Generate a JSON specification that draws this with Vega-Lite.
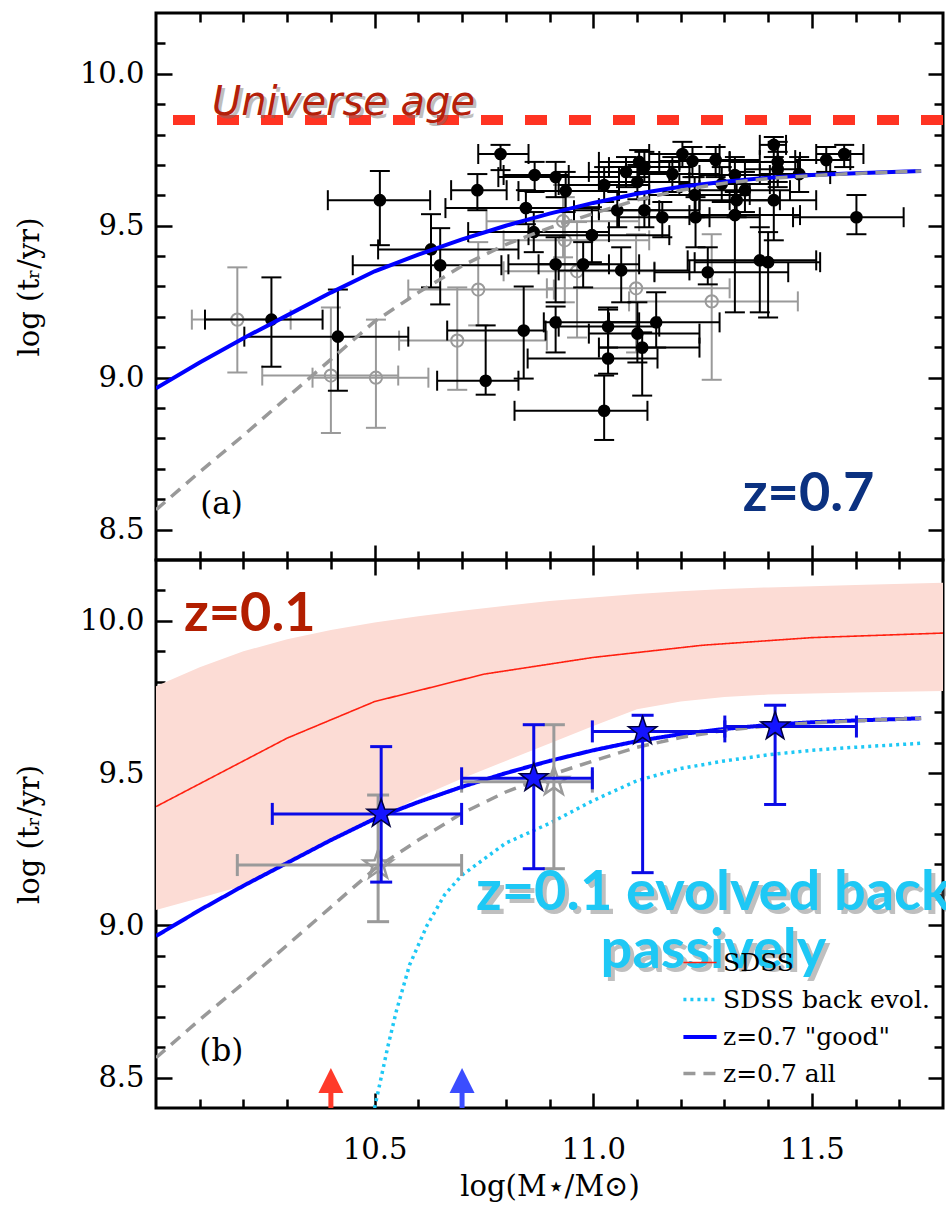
{
  "$schema": "https://vega.github.io/schema/vega-lite/v6.json",
  "background": "white",
  "padding": {"left": 13, "top": 10, "right": 0, "bottom": 0},
  "spacing": 0,
  "bounds": "flush",
  "config": {
    "view": {"stroke": "black", "strokeWidth": 3},
    "font": "DejaVu Serif",
    "axis": {
      "domain": false, "grid": false, "tickColor": "black", "tickWidth": 2.5,
      "labelFont": "DejaVu Serif", "labelFontSize": 29, "labelColor": "black",
      "titleFont": "DejaVu Serif", "titleFontSize": 29, "titleFontWeight": "normal", "titleColor": "black",
      "zindex": 1, "labelFlush": false, "labelOverlap": false
    },
    "legend": {
      "labelFont": "DejaVu Serif", "labelFontSize": 25, "labelColor": "black", "labelLimit": 400,
      "symbolType": "stroke", "symbolSize": 1100, "symbolStrokeWidth": 4, "rowPadding": 5, "labelOffset": 4, "padding": 0
    }
  },
  "datasets": {
    "age": [{"y": 9.848}],
    "black": [
      {"x":10.264,"xlo":10.112,"xhi":10.381,"y":9.191,"ylo":9.036,"yhi":9.330},
      {"x":10.416,"xlo":10.202,"xhi":10.577,"y":9.135,"ylo":8.957,"yhi":9.290},
      {"x":10.512,"xlo":10.393,"xhi":10.627,"y":9.584,"ylo":9.436,"yhi":9.680},
      {"x":10.629,"xlo":10.508,"xhi":10.829,"y":9.422,"ylo":9.297,"yhi":9.538},
      {"x":10.650,"xlo":10.450,"xhi":10.790,"y":9.370,"ylo":9.241,"yhi":9.492},
      {"x":10.735,"xlo":10.675,"xhi":10.802,"y":9.617,"ylo":9.551,"yhi":9.670},
      {"x":10.754,"xlo":10.643,"xhi":10.829,"y":8.990,"ylo":8.944,"yhi":9.172},
      {"x":10.788,"xlo":10.737,"xhi":10.852,"y":9.736,"ylo":9.683,"yhi":9.766},
      {"x":10.841,"xlo":10.666,"xhi":10.891,"y":9.155,"ylo":8.997,"yhi":9.300},
      {"x":10.846,"xlo":10.662,"xhi":11.013,"y":9.558,"ylo":9.505,"yhi":9.617},
      {"x":10.864,"xlo":10.714,"xhi":11.036,"y":9.479,"ylo":9.413,"yhi":9.545},
      {"x":10.866,"xlo":10.795,"xhi":10.944,"y":9.667,"ylo":9.611,"yhi":9.710},
      {"x":10.914,"xlo":10.783,"xhi":11.059,"y":9.660,"ylo":9.594,"yhi":9.710},
      {"x":10.914,"xlo":10.806,"xhi":11.036,"y":9.373,"ylo":9.248,"yhi":9.462},
      {"x":10.914,"xlo":10.887,"xhi":11.105,"y":9.182,"ylo":9.083,"yhi":9.234},
      {"x":10.937,"xlo":10.829,"xhi":11.059,"y":9.614,"ylo":9.545,"yhi":9.677},
      {"x":10.977,"xlo":10.875,"xhi":11.105,"y":9.373,"ylo":9.297,"yhi":9.446},
      {"x":10.997,"xlo":10.852,"xhi":11.174,"y":9.469,"ylo":9.380,"yhi":9.561},
      {"x":11.025,"xlo":10.921,"xhi":11.128,"y":9.634,"ylo":9.578,"yhi":9.693},
      {"x":11.025,"xlo":10.820,"xhi":11.124,"y":8.891,"ylo":8.795,"yhi":9.007},
      {"x":11.034,"xlo":10.921,"xhi":11.151,"y":9.168,"ylo":9.099,"yhi":9.231},
      {"x":11.034,"xlo":10.850,"xhi":11.147,"y":9.063,"ylo":9.013,"yhi":9.224},
      {"x":11.055,"xlo":10.956,"xhi":11.151,"y":9.551,"ylo":9.495,"yhi":9.611},
      {"x":11.064,"xlo":10.921,"xhi":11.220,"y":9.353,"ylo":9.248,"yhi":9.429},
      {"x":11.075,"xlo":10.990,"xhi":11.174,"y":9.677,"ylo":9.627,"yhi":9.726},
      {"x":11.101,"xlo":11.013,"xhi":11.220,"y":9.644,"ylo":9.587,"yhi":9.700},
      {"x":11.101,"xlo":10.990,"xhi":11.243,"y":9.145,"ylo":9.050,"yhi":9.248},
      {"x":11.105,"xlo":11.013,"xhi":11.197,"y":9.710,"ylo":9.660,"yhi":9.749},
      {"x":11.112,"xlo":11.013,"xhi":11.243,"y":9.099,"ylo":8.941,"yhi":9.149},
      {"x":11.117,"xlo":11.036,"xhi":11.220,"y":9.693,"ylo":9.644,"yhi":9.743},
      {"x":11.117,"xlo":11.013,"xhi":11.243,"y":9.551,"ylo":9.495,"yhi":9.611},
      {"x":11.144,"xlo":11.036,"xhi":11.289,"y":9.182,"ylo":9.099,"yhi":9.281},
      {"x":11.158,"xlo":11.059,"xhi":11.266,"y":9.528,"ylo":9.462,"yhi":9.578},
      {"x":11.181,"xlo":11.105,"xhi":11.289,"y":9.670,"ylo":9.611,"yhi":9.726},
      {"x":11.204,"xlo":11.128,"xhi":11.289,"y":9.736,"ylo":9.693,"yhi":9.776},
      {"x":11.227,"xlo":11.151,"xhi":11.312,"y":9.713,"ylo":9.660,"yhi":9.759},
      {"x":11.232,"xlo":11.128,"xhi":11.358,"y":9.601,"ylo":9.528,"yhi":9.660},
      {"x":11.234,"xlo":11.128,"xhi":11.381,"y":9.528,"ylo":9.429,"yhi":9.594},
      {"x":11.262,"xlo":11.140,"xhi":11.446,"y":9.347,"ylo":9.307,"yhi":9.429},
      {"x":11.280,"xlo":11.197,"xhi":11.381,"y":9.716,"ylo":9.660,"yhi":9.759},
      {"x":11.294,"xlo":11.197,"xhi":11.404,"y":9.637,"ylo":9.578,"yhi":9.693},
      {"x":11.324,"xlo":11.243,"xhi":11.404,"y":9.667,"ylo":9.611,"yhi":9.726},
      {"x":11.324,"xlo":11.220,"xhi":11.473,"y":9.535,"ylo":9.215,"yhi":9.611},
      {"x":11.328,"xlo":11.243,"xhi":11.427,"y":9.584,"ylo":9.528,"yhi":9.644},
      {"x":11.347,"xlo":11.243,"xhi":11.450,"y":9.617,"ylo":9.545,"yhi":9.677},
      {"x":11.381,"xlo":11.216,"xhi":11.510,"y":9.386,"ylo":9.215,"yhi":9.495},
      {"x":11.400,"xlo":11.232,"xhi":11.519,"y":9.380,"ylo":9.198,"yhi":9.479},
      {"x":11.413,"xlo":11.381,"xhi":11.441,"y":9.766,"ylo":9.726,"yhi":9.792},
      {"x":11.413,"xlo":11.312,"xhi":11.510,"y":9.584,"ylo":9.452,"yhi":9.710},
      {"x":11.422,"xlo":11.312,"xhi":11.473,"y":9.710,"ylo":9.644,"yhi":9.776},
      {"x":11.422,"xlo":11.347,"xhi":11.468,"y":9.686,"ylo":9.627,"yhi":9.743},
      {"x":11.471,"xlo":11.381,"xhi":11.542,"y":9.670,"ylo":9.611,"yhi":9.726},
      {"x":11.533,"xlo":11.462,"xhi":11.588,"y":9.716,"ylo":9.677,"yhi":9.759},
      {"x":11.574,"xlo":11.510,"xhi":11.618,"y":9.736,"ylo":9.693,"yhi":9.766},
      {"x":11.602,"xlo":11.457,"xhi":11.710,"y":9.528,"ylo":9.472,"yhi":9.601}
    ],
    "grey": [
      {"x":10.186,"xlo":10.082,"xhi":10.308,"y":9.191,"ylo":9.017,"yhi":9.363},
      {"x":10.400,"xlo":10.243,"xhi":10.554,"y":9.007,"ylo":8.818,"yhi":9.231},
      {"x":10.503,"xlo":10.358,"xhi":10.623,"y":9.000,"ylo":8.835,"yhi":9.191},
      {"x":10.689,"xlo":10.556,"xhi":10.894,"y":9.122,"ylo":8.960,"yhi":9.297},
      {"x":10.737,"xlo":10.577,"xhi":10.910,"y":9.290,"ylo":9.172,"yhi":9.446},
      {"x":10.931,"xlo":10.756,"xhi":11.105,"y":9.515,"ylo":9.396,"yhi":9.634},
      {"x":10.935,"xlo":10.795,"xhi":11.128,"y":9.452,"ylo":9.248,"yhi":9.594},
      {"x":10.963,"xlo":10.795,"xhi":11.140,"y":9.350,"ylo":9.132,"yhi":9.512},
      {"x":11.098,"xlo":10.894,"xhi":11.312,"y":9.294,"ylo":9.083,"yhi":9.472},
      {"x":11.271,"xlo":11.082,"xhi":11.468,"y":9.251,"ylo":8.993,"yhi":9.472}
    ],
    "curves": [
      {"grp":"good","series":"z=0.7 \"good\"","x":10.00,"y":8.965},
      {"grp":"good","series":"z=0.7 \"good\"","x":10.10,"y":9.05},
      {"grp":"good","series":"z=0.7 \"good\"","x":10.20,"y":9.13},
      {"grp":"good","series":"z=0.7 \"good\"","x":10.30,"y":9.205},
      {"grp":"good","series":"z=0.7 \"good\"","x":10.40,"y":9.28},
      {"grp":"good","series":"z=0.7 \"good\"","x":10.50,"y":9.35},
      {"grp":"good","series":"z=0.7 \"good\"","x":10.60,"y":9.405},
      {"grp":"good","series":"z=0.7 \"good\"","x":10.70,"y":9.455},
      {"grp":"good","series":"z=0.7 \"good\"","x":10.80,"y":9.50},
      {"grp":"good","series":"z=0.7 \"good\"","x":10.90,"y":9.54},
      {"grp":"good","series":"z=0.7 \"good\"","x":11.00,"y":9.575},
      {"grp":"good","series":"z=0.7 \"good\"","x":11.10,"y":9.605},
      {"grp":"good","series":"z=0.7 \"good\"","x":11.20,"y":9.628},
      {"grp":"good","series":"z=0.7 \"good\"","x":11.30,"y":9.645},
      {"grp":"good","series":"z=0.7 \"good\"","x":11.40,"y":9.658},
      {"grp":"good","series":"z=0.7 \"good\"","x":11.50,"y":9.667},
      {"grp":"good","series":"z=0.7 \"good\"","x":11.60,"y":9.673},
      {"grp":"good","series":"z=0.7 \"good\"","x":11.75,"y":9.68},
      {"grp":"all","series":"z=0.7 all","x":10.00,"y":8.565},
      {"grp":"all","series":"z=0.7 all","x":10.10,"y":8.69},
      {"grp":"all","series":"z=0.7 all","x":10.20,"y":8.81},
      {"grp":"all","series":"z=0.7 all","x":10.30,"y":8.935},
      {"grp":"all","series":"z=0.7 all","x":10.40,"y":9.06},
      {"grp":"all","series":"z=0.7 all","x":10.50,"y":9.185},
      {"grp":"all","series":"z=0.7 all","x":10.60,"y":9.28},
      {"grp":"all","series":"z=0.7 all","x":10.70,"y":9.368},
      {"grp":"all","series":"z=0.7 all","x":10.80,"y":9.438},
      {"grp":"all","series":"z=0.7 all","x":10.90,"y":9.493},
      {"grp":"all","series":"z=0.7 all","x":11.00,"y":9.54},
      {"grp":"all","series":"z=0.7 all","x":11.10,"y":9.585},
      {"grp":"all","series":"z=0.7 all","x":11.20,"y":9.617},
      {"grp":"all","series":"z=0.7 all","x":11.30,"y":9.64},
      {"grp":"all","series":"z=0.7 all","x":11.40,"y":9.655},
      {"grp":"all","series":"z=0.7 all","x":11.50,"y":9.665},
      {"grp":"all","series":"z=0.7 all","x":11.60,"y":9.672},
      {"grp":"all","series":"z=0.7 all","x":11.75,"y":9.68},
      {"grp":"sdss","series":"SDSS","x":10.00,"y":9.39},
      {"grp":"sdss","series":"SDSS","x":10.10,"y":9.465},
      {"grp":"sdss","series":"SDSS","x":10.30,"y":9.615},
      {"grp":"sdss","series":"SDSS","x":10.50,"y":9.735},
      {"grp":"sdss","series":"SDSS","x":10.75,"y":9.825},
      {"grp":"sdss","series":"SDSS","x":11.00,"y":9.88},
      {"grp":"sdss","series":"SDSS","x":11.25,"y":9.92},
      {"grp":"sdss","series":"SDSS","x":11.50,"y":9.945},
      {"grp":"sdss","series":"SDSS","x":11.80,"y":9.96},
      {"grp":"back","series":"SDSS back evol.","x":10.500,"y":8.40},
      {"grp":"back","series":"SDSS back evol.","x":10.515,"y":8.50},
      {"grp":"back","series":"SDSS back evol.","x":10.530,"y":8.60},
      {"grp":"back","series":"SDSS back evol.","x":10.550,"y":8.72},
      {"grp":"back","series":"SDSS back evol.","x":10.580,"y":8.87},
      {"grp":"back","series":"SDSS back evol.","x":10.620,"y":9.00},
      {"grp":"back","series":"SDSS back evol.","x":10.660,"y":9.10},
      {"grp":"back","series":"SDSS back evol.","x":10.700,"y":9.165},
      {"grp":"back","series":"SDSS back evol.","x":10.800,"y":9.27},
      {"grp":"back","series":"SDSS back evol.","x":10.900,"y":9.335},
      {"grp":"back","series":"SDSS back evol.","x":11.000,"y":9.41},
      {"grp":"back","series":"SDSS back evol.","x":11.100,"y":9.475},
      {"grp":"back","series":"SDSS back evol.","x":11.200,"y":9.515},
      {"grp":"back","series":"SDSS back evol.","x":11.300,"y":9.54},
      {"grp":"back","series":"SDSS back evol.","x":11.400,"y":9.56},
      {"grp":"back","series":"SDSS back evol.","x":11.500,"y":9.575},
      {"grp":"back","series":"SDSS back evol.","x":11.600,"y":9.585},
      {"grp":"back","series":"SDSS back evol.","x":11.750,"y":9.598}
    ],
    "band": [
      {"x":10.0,"lo":9.05,"hi":9.785},
      {"x":10.1,"lo":9.09,"hi":9.848},
      {"x":10.2,"lo":9.13,"hi":9.90},
      {"x":10.3,"lo":9.20,"hi":9.94},
      {"x":10.4,"lo":9.28,"hi":9.97},
      {"x":10.5,"lo":9.345,"hi":9.995},
      {"x":10.6,"lo":9.42,"hi":10.015},
      {"x":10.7,"lo":9.482,"hi":10.033},
      {"x":10.8,"lo":9.54,"hi":10.05},
      {"x":10.9,"lo":9.597,"hi":10.065},
      {"x":11.0,"lo":9.655,"hi":10.077},
      {"x":11.1,"lo":9.71,"hi":10.088},
      {"x":11.2,"lo":9.735,"hi":10.097},
      {"x":11.3,"lo":9.75,"hi":10.105},
      {"x":11.4,"lo":9.758,"hi":10.11},
      {"x":11.6,"lo":9.765,"hi":10.118},
      {"x":11.8,"lo":9.77,"hi":10.125}
    ],
    "starsGood": [
      {"x":10.515,"xlo":10.266,"xhi":10.699,"y":9.366,"ylo":9.142,"yhi":9.587},
      {"x":10.864,"xlo":10.699,"xhi":10.998,"y":9.483,"ylo":9.186,"yhi":9.659},
      {"x":11.113,"xlo":10.998,"xhi":11.301,"y":9.637,"ylo":9.173,"yhi":9.690},
      {"x":11.416,"xlo":11.301,"xhi":11.602,"y":9.653,"ylo":9.397,"yhi":9.723}
    ],
    "starsAll": [
      {"x":10.508,"xlo":10.186,"xhi":10.699,"y":9.198,"ylo":9.012,"yhi":9.428},
      {"x":10.910,"xlo":10.699,"xhi":10.998,"y":9.472,"ylo":9.186,"yhi":9.659}
    ],
    "arrows": [
      {"who":"sdss","x":10.4,"y0":8.4,"y1":8.49},
      {"who":"z07","x":10.7,"y0":8.4,"y1":8.49}
    ],
    "notesTop": [
      {"kind":"age","x":10.128,"y":9.865,"label":"Universe age"},
      {"kind":"z","x":11.342,"y":8.561,"label":"z=0.7"},
      {"kind":"tag","x":10.101,"y":8.581,"label":"(a)"}
    ],
    "notesBottom": [
      {"kind":"z","x":10.064,"y":9.967,"label":"z=0.1"},
      {"kind":"evolved","x":11.275,"y":9.05,"label":"z=0.1 evolved back"},
      {"kind":"evolved","x":11.275,"y":8.861,"label":"passively"},
      {"kind":"tag","x":10.099,"y":8.584,"label":"(b)"}
    ]
  },
  "vconcat": [
    {
      "width": 787,
      "height": 547,
      "resolve": {"axis": {"x": "independent", "y": "independent"}},
      "layer": [
        {
          "data": {"name": "age"},
          "mark": {"type": "rule", "color": "#ff3322", "strokeWidth": 10, "strokeDash": [22, 22]},
          "encoding": {"y": {"field": "y", "type": "quantitative", "scale": {"domain": [8.4, 10.2]}, "axis": null}}
        },
        {
          "data": {"name": "notesTop"},
          "transform": [{"filter": "datum.kind == 'age'"}],
          "mark": {"type": "text", "font": "DejaVu Sans", "fontStyle": "italic", "fontSize": 40, "align": "left", "baseline": "alphabetic", "color": "#707070", "opacity": 0.45, "dx": 3, "dy": 3},
          "encoding": {
            "x": {"field": "x", "type": "quantitative", "scale": {"domain": [10, 11.8]}, "axis": null},
            "y": {"field": "y", "type": "quantitative", "scale": {"domain": [8.4, 10.2]}, "axis": null},
            "text": {"field": "label"}
          }
        },
        {
          "data": {"name": "notesTop"},
          "transform": [{"filter": "datum.kind == 'age'"}],
          "mark": {"type": "text", "font": "DejaVu Sans", "fontStyle": "italic", "fontSize": 40, "align": "left", "baseline": "alphabetic", "color": "#b4200a"},
          "encoding": {
            "x": {"field": "x", "type": "quantitative", "scale": {"domain": [10, 11.8]}, "axis": null},
            "y": {"field": "y", "type": "quantitative", "scale": {"domain": [8.4, 10.2]}, "axis": null},
            "text": {"field": "label"}
          }
        },
        {
          "data": {"name": "grey"},
          "mark": {"type": "rule", "color": "#9a9a9a", "strokeWidth": 2},
          "encoding": {
            "x": {"field": "xlo", "type": "quantitative", "scale": {"domain": [10, 11.8]}, "axis": null},
            "x2": {"field": "xhi"},
            "y": {"field": "y", "type": "quantitative", "scale": {"domain": [8.4, 10.2]}, "axis": null}
          }
        },
        {
          "data": {"name": "grey"},
          "mark": {"type": "rule", "color": "#9a9a9a", "strokeWidth": 2},
          "encoding": {
            "x": {"field": "x", "type": "quantitative", "scale": {"domain": [10, 11.8]}, "axis": null},
            "y": {"field": "ylo", "type": "quantitative", "scale": {"domain": [8.4, 10.2]}, "axis": null},
            "y2": {"field": "yhi"}
          }
        },
        {
          "data": {"name": "grey"},
          "mark": {"type": "tick", "orient": "vertical", "size": 20, "thickness": 2, "color": "#9a9a9a", "opacity": 1},
          "encoding": {
            "x": {"field": "xlo", "type": "quantitative", "scale": {"domain": [10, 11.8]}, "axis": null},
            "y": {"field": "y", "type": "quantitative", "scale": {"domain": [8.4, 10.2]}, "axis": null}
          }
        },
        {
          "data": {"name": "grey"},
          "mark": {"type": "tick", "orient": "vertical", "size": 20, "thickness": 2, "color": "#9a9a9a", "opacity": 1},
          "encoding": {
            "x": {"field": "xhi", "type": "quantitative", "scale": {"domain": [10, 11.8]}, "axis": null},
            "y": {"field": "y", "type": "quantitative", "scale": {"domain": [8.4, 10.2]}, "axis": null}
          }
        },
        {
          "data": {"name": "grey"},
          "mark": {"type": "tick", "orient": "horizontal", "size": 20, "thickness": 2, "color": "#9a9a9a", "opacity": 1},
          "encoding": {
            "x": {"field": "x", "type": "quantitative", "scale": {"domain": [10, 11.8]}, "axis": null},
            "y": {"field": "ylo", "type": "quantitative", "scale": {"domain": [8.4, 10.2]}, "axis": null}
          }
        },
        {
          "data": {"name": "grey"},
          "mark": {"type": "tick", "orient": "horizontal", "size": 20, "thickness": 2, "color": "#9a9a9a", "opacity": 1},
          "encoding": {
            "x": {"field": "x", "type": "quantitative", "scale": {"domain": [10, 11.8]}, "axis": null},
            "y": {"field": "yhi", "type": "quantitative", "scale": {"domain": [8.4, 10.2]}, "axis": null}
          }
        },
        {
          "data": {"name": "grey"},
          "mark": {"type": "point", "shape": "circle", "size": 150, "filled": false, "color": "#9a9a9a", "strokeWidth": 2, "opacity": 1},
          "encoding": {
            "x": {"field": "x", "type": "quantitative", "scale": {"domain": [10, 11.8]},
                  "axis": {"orient": "top", "values": [10.1,10.2,10.3,10.4,10.6,10.7,10.8,10.9,11.1,11.2,11.3,11.4,11.6,11.7], "tickSize": -9, "labels": false, "title": null}},
            "y": {"field": "y", "type": "quantitative", "scale": {"domain": [8.4, 10.2]},
                  "axis": {"orient": "right", "values": [8.6,8.7,8.8,8.9,9.1,9.2,9.3,9.4,9.6,9.7,9.8,9.9,10.1], "tickSize": -9, "labels": false, "title": null}}
          }
        },
        {
          "data": {"name": "black"},
          "mark": {"type": "rule", "color": "black", "strokeWidth": 2},
          "encoding": {
            "x": {"field": "xlo", "type": "quantitative", "scale": {"domain": [10, 11.8]}, "axis": null},
            "x2": {"field": "xhi"},
            "y": {"field": "y", "type": "quantitative", "scale": {"domain": [8.4, 10.2]}, "axis": null}
          }
        },
        {
          "data": {"name": "black"},
          "mark": {"type": "rule", "color": "black", "strokeWidth": 2},
          "encoding": {
            "x": {"field": "x", "type": "quantitative", "scale": {"domain": [10, 11.8]}, "axis": null},
            "y": {"field": "ylo", "type": "quantitative", "scale": {"domain": [8.4, 10.2]}, "axis": null},
            "y2": {"field": "yhi"}
          }
        },
        {
          "data": {"name": "black"},
          "mark": {"type": "tick", "orient": "vertical", "size": 20, "thickness": 2, "color": "black", "opacity": 1},
          "encoding": {
            "x": {"field": "xlo", "type": "quantitative", "scale": {"domain": [10, 11.8]}, "axis": null},
            "y": {"field": "y", "type": "quantitative", "scale": {"domain": [8.4, 10.2]}, "axis": null}
          }
        },
        {
          "data": {"name": "black"},
          "mark": {"type": "tick", "orient": "vertical", "size": 20, "thickness": 2, "color": "black", "opacity": 1},
          "encoding": {
            "x": {"field": "xhi", "type": "quantitative", "scale": {"domain": [10, 11.8]}, "axis": null},
            "y": {"field": "y", "type": "quantitative", "scale": {"domain": [8.4, 10.2]}, "axis": null}
          }
        },
        {
          "data": {"name": "black"},
          "mark": {"type": "tick", "orient": "horizontal", "size": 20, "thickness": 2, "color": "black", "opacity": 1},
          "encoding": {
            "x": {"field": "x", "type": "quantitative", "scale": {"domain": [10, 11.8]}, "axis": null},
            "y": {"field": "ylo", "type": "quantitative", "scale": {"domain": [8.4, 10.2]}, "axis": null}
          }
        },
        {
          "data": {"name": "black"},
          "mark": {"type": "tick", "orient": "horizontal", "size": 20, "thickness": 2, "color": "black", "opacity": 1},
          "encoding": {
            "x": {"field": "x", "type": "quantitative", "scale": {"domain": [10, 11.8]}, "axis": null},
            "y": {"field": "yhi", "type": "quantitative", "scale": {"domain": [8.4, 10.2]}, "axis": null}
          }
        },
        {
          "data": {"name": "black"},
          "mark": {"type": "circle", "size": 160, "color": "black", "opacity": 1},
          "encoding": {
            "x": {"field": "x", "type": "quantitative", "scale": {"domain": [10, 11.8]},
                  "axis": {"orient": "top", "values": [10.5, 11, 11.5], "tickSize": -15, "labels": false, "title": null}},
            "y": {"field": "y", "type": "quantitative", "scale": {"domain": [8.4, 10.2]},
                  "axis": {"orient": "right", "values": [8.5, 9, 9.5, 10], "tickSize": -15, "labels": false, "title": null}}
          }
        },
        {
          "data": {"name": "curves"},
          "transform": [{"filter": "datum.grp == 'good'"}],
          "mark": {"type": "line", "color": "#0000ff", "strokeWidth": 4, "clip": true},
          "encoding": {
            "x": {"field": "x", "type": "quantitative", "scale": {"domain": [10, 11.8]},
                  "axis": {"orient": "bottom", "values": [10.5, 11, 11.5], "tickSize": -15, "labels": false, "title": null}},
            "y": {"field": "y", "type": "quantitative", "scale": {"domain": [8.4, 10.2]},
                  "axis": {"orient": "left", "values": [8.5, 9, 9.5, 10], "tickSize": -16, "labelPadding": 28, "format": ".1f",
                           "title": "log (tᵣ/yr)", "titleX": -127, "titleBaseline": "middle"}}
          }
        },
        {
          "data": {"name": "curves"},
          "transform": [{"filter": "datum.grp == 'all'"}],
          "mark": {"type": "line", "color": "#999999", "strokeWidth": 3.5, "strokeDash": [12, 8], "clip": true},
          "encoding": {
            "x": {"field": "x", "type": "quantitative", "scale": {"domain": [10, 11.8]},
                  "axis": {"orient": "bottom", "values": [10.1,10.2,10.3,10.4,10.6,10.7,10.8,10.9,11.1,11.2,11.3,11.4,11.6,11.7], "tickSize": -9, "labels": false, "title": null}},
            "y": {"field": "y", "type": "quantitative", "scale": {"domain": [8.4, 10.2]},
                  "axis": {"orient": "left", "values": [8.6,8.7,8.8,8.9,9.1,9.2,9.3,9.4,9.6,9.7,9.8,9.9,10.1], "tickSize": -9, "labels": false, "title": null}}
          }
        },
        {
          "data": {"name": "notesTop"},
          "transform": [{"filter": "datum.kind == 'z'"}],
          "mark": {"type": "text", "font": "Lato", "fontWeight": "bold", "fontSize": 54, "align": "left", "baseline": "alphabetic", "color": "#0b3180"},
          "encoding": {
            "x": {"field": "x", "type": "quantitative", "scale": {"domain": [10, 11.8]}, "axis": null},
            "y": {"field": "y", "type": "quantitative", "scale": {"domain": [8.4, 10.2]}, "axis": null},
            "text": {"field": "label"}
          }
        },
        {
          "data": {"name": "notesTop"},
          "transform": [{"filter": "datum.kind == 'tag'"}],
          "mark": {"type": "text", "font": "DejaVu Serif", "fontSize": 31, "align": "left", "baseline": "middle", "color": "black"},
          "encoding": {
            "x": {"field": "x", "type": "quantitative", "scale": {"domain": [10, 11.8]}, "axis": null},
            "y": {"field": "y", "type": "quantitative", "scale": {"domain": [8.4, 10.2]}, "axis": null},
            "text": {"field": "label"}
          }
        }
      ]
    },
    {
      "width": 787,
      "height": 548,
      "resolve": {"axis": {"x": "independent", "y": "independent"}},
      "layer": [
        {
          "data": {"name": "band"},
          "mark": {"type": "area", "color": "#fcdcd5", "opacity": 1},
          "encoding": {
            "x": {"field": "x", "type": "quantitative", "scale": {"domain": [10, 11.8]},
                  "axis": {"orient": "bottom", "values": [10.5, 11, 11.5], "tickSize": -15, "labelPadding": 65, "labelBaseline": "alphabetic", "format": ".1f",
                           "title": "log(M⋆/M⊙)", "titleY": 87, "titleBaseline": "alphabetic"}},
            "y": {"field": "lo", "type": "quantitative", "scale": {"domain": [8.4, 10.2]},
                  "axis": {"orient": "left", "values": [8.5, 9, 9.5, 10], "tickSize": -16, "labelPadding": 28, "format": ".1f",
                           "title": "log (tᵣ/yr)", "titleX": -127, "titleBaseline": "middle"}},
            "y2": {"field": "hi"}
          }
        },
        {
          "data": {"name": "curves"},
          "mark": {"type": "line", "clip": true},
          "encoding": {
            "x": {"field": "x", "type": "quantitative", "scale": {"domain": [10, 11.8]},
                  "axis": {"orient": "bottom", "values": [10.1,10.2,10.3,10.4,10.6,10.7,10.8,10.9,11.1,11.2,11.3,11.4,11.6,11.7], "tickSize": -9, "labels": false, "title": null}},
            "y": {"field": "y", "type": "quantitative", "scale": {"domain": [8.4, 10.2]},
                  "axis": {"orient": "left", "values": [8.6,8.7,8.8,8.9,9.1,9.2,9.3,9.4,9.6,9.7,9.8,9.9,10.1], "tickSize": -9, "labels": false, "title": null}},
            "color": {"field": "series", "type": "nominal",
                      "scale": {"domain": ["SDSS", "SDSS back evol.", "z=0.7 \"good\"", "z=0.7 all"], "range": ["#ff2010", "#1ec8f5", "#0000ff", "#999999"]},
                      "legend": {"orient": "none", "legendX": 525, "legendY": 932, "title": null}},
            "strokeDash": {"field": "series", "type": "nominal",
                      "scale": {"domain": ["SDSS", "SDSS back evol.", "z=0.7 \"good\"", "z=0.7 all"], "range": [[1, 0], [3, 4], [1, 0], [12, 8]]},
                      "legend": {"orient": "none", "legendX": 525, "legendY": 932, "title": null}},
            "strokeWidth": {"field": "series", "type": "ordinal",
                      "scale": {"type": "ordinal", "domain": ["SDSS", "SDSS back evol.", "z=0.7 \"good\"", "z=0.7 all"], "range": [1.6, 3.5, 4, 3.5]},
                      "legend": null}
          }
        },
        {
          "data": {"name": "starsAll"},
          "mark": {"type": "rule", "color": "#9a9a9a", "strokeWidth": 3},
          "encoding": {
            "x": {"field": "xlo", "type": "quantitative", "scale": {"domain": [10, 11.8]}, "axis": null},
            "x2": {"field": "xhi"},
            "y": {"field": "y", "type": "quantitative", "scale": {"domain": [8.4, 10.2]}, "axis": null}
          }
        },
        {
          "data": {"name": "starsAll"},
          "mark": {"type": "rule", "color": "#9a9a9a", "strokeWidth": 3},
          "encoding": {
            "x": {"field": "x", "type": "quantitative", "scale": {"domain": [10, 11.8]}, "axis": null},
            "y": {"field": "ylo", "type": "quantitative", "scale": {"domain": [8.4, 10.2]}, "axis": null},
            "y2": {"field": "yhi"}
          }
        },
        {
          "data": {"name": "starsAll"},
          "mark": {"type": "tick", "orient": "vertical", "size": 22, "thickness": 3, "color": "#9a9a9a", "opacity": 1},
          "encoding": {
            "x": {"field": "xlo", "type": "quantitative", "scale": {"domain": [10, 11.8]}, "axis": null},
            "y": {"field": "y", "type": "quantitative", "scale": {"domain": [8.4, 10.2]}, "axis": null}
          }
        },
        {
          "data": {"name": "starsAll"},
          "mark": {"type": "tick", "orient": "vertical", "size": 22, "thickness": 3, "color": "#9a9a9a", "opacity": 1},
          "encoding": {
            "x": {"field": "xhi", "type": "quantitative", "scale": {"domain": [10, 11.8]}, "axis": null},
            "y": {"field": "y", "type": "quantitative", "scale": {"domain": [8.4, 10.2]}, "axis": null}
          }
        },
        {
          "data": {"name": "starsAll"},
          "mark": {"type": "tick", "orient": "horizontal", "size": 22, "thickness": 3, "color": "#9a9a9a", "opacity": 1},
          "encoding": {
            "x": {"field": "x", "type": "quantitative", "scale": {"domain": [10, 11.8]}, "axis": null},
            "y": {"field": "ylo", "type": "quantitative", "scale": {"domain": [8.4, 10.2]}, "axis": null}
          }
        },
        {
          "data": {"name": "starsAll"},
          "mark": {"type": "tick", "orient": "horizontal", "size": 22, "thickness": 3, "color": "#9a9a9a", "opacity": 1},
          "encoding": {
            "x": {"field": "x", "type": "quantitative", "scale": {"domain": [10, 11.8]}, "axis": null},
            "y": {"field": "yhi", "type": "quantitative", "scale": {"domain": [8.4, 10.2]}, "axis": null}
          }
        },
        {
          "data": {"name": "starsAll"},
          "mark": {"type": "point", "shape": "M0,-1L0.235,-0.324L0.951,-0.309L0.38,0.124L0.588,0.809L0,0.4L-0.588,0.809L-0.38,0.124L-0.951,-0.309L-0.235,-0.324Z",
                   "size": 900, "filled": false, "color": "#9a9a9a", "strokeWidth": 2.5, "opacity": 1},
          "encoding": {
            "x": {"field": "x", "type": "quantitative", "scale": {"domain": [10, 11.8]},
                  "axis": {"orient": "top", "values": [10.1,10.2,10.3,10.4,10.6,10.7,10.8,10.9,11.1,11.2,11.3,11.4,11.6,11.7], "tickSize": -9, "labels": false, "title": null}},
            "y": {"field": "y", "type": "quantitative", "scale": {"domain": [8.4, 10.2]},
                  "axis": {"orient": "right", "values": [8.6,8.7,8.8,8.9,9.1,9.2,9.3,9.4,9.6,9.7,9.8,9.9,10.1], "tickSize": -9, "labels": false, "title": null}}
          }
        },
        {
          "data": {"name": "starsGood"},
          "mark": {"type": "rule", "color": "#0a0ae6", "strokeWidth": 3},
          "encoding": {
            "x": {"field": "xlo", "type": "quantitative", "scale": {"domain": [10, 11.8]}, "axis": null},
            "x2": {"field": "xhi"},
            "y": {"field": "y", "type": "quantitative", "scale": {"domain": [8.4, 10.2]}, "axis": null}
          }
        },
        {
          "data": {"name": "starsGood"},
          "mark": {"type": "rule", "color": "#0a0ae6", "strokeWidth": 3},
          "encoding": {
            "x": {"field": "x", "type": "quantitative", "scale": {"domain": [10, 11.8]}, "axis": null},
            "y": {"field": "ylo", "type": "quantitative", "scale": {"domain": [8.4, 10.2]}, "axis": null},
            "y2": {"field": "yhi"}
          }
        },
        {
          "data": {"name": "starsGood"},
          "mark": {"type": "tick", "orient": "vertical", "size": 22, "thickness": 3, "color": "#0a0ae6", "opacity": 1},
          "encoding": {
            "x": {"field": "xlo", "type": "quantitative", "scale": {"domain": [10, 11.8]}, "axis": null},
            "y": {"field": "y", "type": "quantitative", "scale": {"domain": [8.4, 10.2]}, "axis": null}
          }
        },
        {
          "data": {"name": "starsGood"},
          "mark": {"type": "tick", "orient": "vertical", "size": 22, "thickness": 3, "color": "#0a0ae6", "opacity": 1},
          "encoding": {
            "x": {"field": "xhi", "type": "quantitative", "scale": {"domain": [10, 11.8]}, "axis": null},
            "y": {"field": "y", "type": "quantitative", "scale": {"domain": [8.4, 10.2]}, "axis": null}
          }
        },
        {
          "data": {"name": "starsGood"},
          "mark": {"type": "tick", "orient": "horizontal", "size": 22, "thickness": 3, "color": "#0a0ae6", "opacity": 1},
          "encoding": {
            "x": {"field": "x", "type": "quantitative", "scale": {"domain": [10, 11.8]}, "axis": null},
            "y": {"field": "ylo", "type": "quantitative", "scale": {"domain": [8.4, 10.2]}, "axis": null}
          }
        },
        {
          "data": {"name": "starsGood"},
          "mark": {"type": "tick", "orient": "horizontal", "size": 22, "thickness": 3, "color": "#0a0ae6", "opacity": 1},
          "encoding": {
            "x": {"field": "x", "type": "quantitative", "scale": {"domain": [10, 11.8]}, "axis": null},
            "y": {"field": "yhi", "type": "quantitative", "scale": {"domain": [8.4, 10.2]}, "axis": null}
          }
        },
        {
          "data": {"name": "starsGood"},
          "mark": {"type": "point", "shape": "M0,-1L0.235,-0.324L0.951,-0.309L0.38,0.124L0.588,0.809L0,0.4L-0.588,0.809L-0.38,0.124L-0.951,-0.309L-0.235,-0.324Z",
                   "size": 900, "filled": true, "fill": "#1414ff", "stroke": "#000040", "strokeWidth": 1.5, "opacity": 1},
          "encoding": {
            "x": {"field": "x", "type": "quantitative", "scale": {"domain": [10, 11.8]},
                  "axis": {"orient": "top", "values": [10.5, 11, 11.5], "tickSize": -15, "labels": false, "title": null}},
            "y": {"field": "y", "type": "quantitative", "scale": {"domain": [8.4, 10.2]},
                  "axis": {"orient": "right", "values": [8.5, 9, 9.5, 10], "tickSize": -15, "labels": false, "title": null}}
          }
        },
        {
          "data": {"name": "arrows"},
          "transform": [{"filter": "datum.who == 'sdss'"}],
          "mark": {"type": "rule", "color": "#ff3a2a", "strokeWidth": 5},
          "encoding": {
            "x": {"field": "x", "type": "quantitative", "scale": {"domain": [10, 11.8]}, "axis": null},
            "y": {"field": "y0", "type": "quantitative", "scale": {"domain": [8.4, 10.2]}, "axis": null},
            "y2": {"field": "y1"}
          }
        },
        {
          "data": {"name": "arrows"},
          "transform": [{"filter": "datum.who == 'sdss'"}],
          "mark": {"type": "point", "shape": "M0,-1L1,1L-1,1Z", "size": 625, "filled": true, "color": "#ff3a2a", "opacity": 1},
          "encoding": {
            "x": {"field": "x", "type": "quantitative", "scale": {"domain": [10, 11.8]}, "axis": null},
            "y": {"field": "y1", "type": "quantitative", "scale": {"domain": [8.4, 10.2]}, "axis": null}
          }
        },
        {
          "data": {"name": "arrows"},
          "transform": [{"filter": "datum.who == 'z07'"}],
          "mark": {"type": "rule", "color": "#3b4dff", "strokeWidth": 5},
          "encoding": {
            "x": {"field": "x", "type": "quantitative", "scale": {"domain": [10, 11.8]}, "axis": null},
            "y": {"field": "y0", "type": "quantitative", "scale": {"domain": [8.4, 10.2]}, "axis": null},
            "y2": {"field": "y1"}
          }
        },
        {
          "data": {"name": "arrows"},
          "transform": [{"filter": "datum.who == 'z07'"}],
          "mark": {"type": "point", "shape": "M0,-1L1,1L-1,1Z", "size": 625, "filled": true, "color": "#3b4dff", "opacity": 1},
          "encoding": {
            "x": {"field": "x", "type": "quantitative", "scale": {"domain": [10, 11.8]}, "axis": null},
            "y": {"field": "y1", "type": "quantitative", "scale": {"domain": [8.4, 10.2]}, "axis": null}
          }
        },
        {
          "data": {"name": "notesBottom"},
          "transform": [{"filter": "datum.kind == 'z'"}],
          "mark": {"type": "text", "font": "Lato", "fontWeight": "bold", "fontSize": 54, "align": "left", "baseline": "alphabetic", "color": "#b21e00"},
          "encoding": {
            "x": {"field": "x", "type": "quantitative", "scale": {"domain": [10, 11.8]}, "axis": null},
            "y": {"field": "y", "type": "quantitative", "scale": {"domain": [8.4, 10.2]}, "axis": null},
            "text": {"field": "label"}
          }
        },
        {
          "data": {"name": "notesBottom"},
          "transform": [{"filter": "datum.kind == 'evolved'"}],
          "mark": {"type": "text", "font": "Lato", "fontWeight": "bold", "fontSize": 56, "align": "center", "baseline": "alphabetic", "color": "#606060", "opacity": 0.4, "dx": 4, "dy": 4},
          "encoding": {
            "x": {"field": "x", "type": "quantitative", "scale": {"domain": [10, 11.8]}, "axis": null},
            "y": {"field": "y", "type": "quantitative", "scale": {"domain": [8.4, 10.2]}, "axis": null},
            "text": {"field": "label"}
          }
        },
        {
          "data": {"name": "notesBottom"},
          "transform": [{"filter": "datum.kind == 'evolved'"}],
          "mark": {"type": "text", "font": "Lato", "fontWeight": "bold", "fontSize": 56, "align": "center", "baseline": "alphabetic", "color": "#1ec8f5"},
          "encoding": {
            "x": {"field": "x", "type": "quantitative", "scale": {"domain": [10, 11.8]}, "axis": null},
            "y": {"field": "y", "type": "quantitative", "scale": {"domain": [8.4, 10.2]}, "axis": null},
            "text": {"field": "label"}
          }
        },
        {
          "data": {"name": "notesBottom"},
          "transform": [{"filter": "datum.kind == 'tag'"}],
          "mark": {"type": "text", "font": "DejaVu Serif", "fontSize": 31, "align": "left", "baseline": "middle", "color": "black"},
          "encoding": {
            "x": {"field": "x", "type": "quantitative", "scale": {"domain": [10, 11.8]}, "axis": null},
            "y": {"field": "y", "type": "quantitative", "scale": {"domain": [8.4, 10.2]}, "axis": null},
            "text": {"field": "label"}
          }
        }
      ]
    }
  ]
}
